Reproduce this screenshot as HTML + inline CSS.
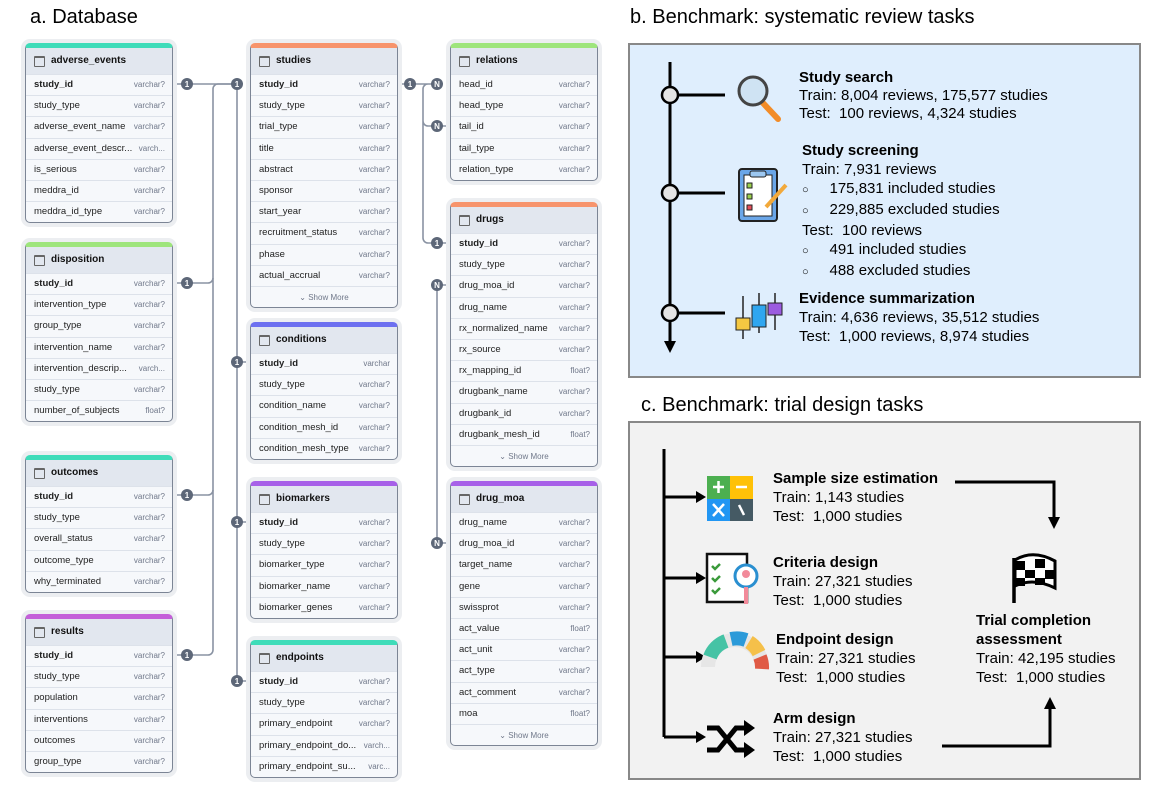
<!DOCTYPE html>
<html><head><meta charset="utf-8">
<style>
*{margin:0;padding:0;box-sizing:border-box}
body{width:1155px;height:790px;background:#fff;position:relative;overflow:hidden;font-family:"Liberation Sans",Arial,sans-serif;color:#000}
.ttl{position:absolute;font-size:20px;white-space:nowrap}
.t{position:absolute;width:148px;background:#f6f8fb;border:1.5px solid #7c8595;border-radius:5px;overflow:hidden;box-shadow:0 0 0 4px #eceef1}
.t .h{height:26px;background:#e2e7ef;font-size:10px;font-weight:bold;line-height:26px;padding-left:25px;position:relative;color:#111}
.t .h:before{content:"";position:absolute;left:8px;top:8px;width:9px;height:9px;border:1.2px solid #666;border-radius:1px;box-shadow:inset 0 3px 0 -2px #666}
.r{height:21.2px;border-top:1px solid #dde2ea;font-size:9.5px;line-height:20px;padding:0 7px 0 8px;display:flex;justify-content:space-between;white-space:nowrap;color:#222}
.r i{font-style:normal;font-size:8px;color:#6f7789}
.r.k b{font-weight:bold}
.r b{font-weight:normal}
.sm{height:21px;border-top:1px solid #dde2ea;font-size:8px;color:#6f7789;text-align:center;line-height:21px}
.box{position:absolute;border:2px solid #888}
.tx{position:absolute;font-size:15px;white-space:nowrap;line-height:18px}
.tx b{font-size:15px}
</style></head><body>
<div class="ttl" style="left:30px;top:6px">a. Database</div>
<div class="ttl" style="left:630px;top:6px">b. Benchmark: systematic review tasks</div>
<div class="ttl" style="left:641px;top:394px">c. Benchmark: trial design tasks</div>

<svg style="position:absolute;left:0;top:0" width="630" height="790">
<g fill="none" stroke="#8a93a3" stroke-width="1.6">
<path d="M173 84H237"/>
<path d="M237 84H218a5 5 0 0 0-5 5V650a5 5 0 0 1-5 5H173"/>
<path d="M173 283H208a5 5 0 0 0 5-5"/>
<path d="M173 495H208a5 5 0 0 0 5-5"/>
<path d="M237 84V681M237 362H250M237 522H250M237 681H250"/>
<path d="M398 84H437M437 84H428a5 5 0 0 0-5 5V238a5 5 0 0 0 5 5H450M423 121a5 5 0 0 0 5 5H450"/>
<path d="M437 285V543M437 285H450M437 543H450"/>
</g>
<g font-family="Liberation Sans" font-size="8" font-weight="bold" fill="#fff" text-anchor="middle">
<g fill="#5d6778"><circle cx="187" cy="84" r="6"/><circle cx="237" cy="84" r="6"/><circle cx="187" cy="283" r="6"/><circle cx="187" cy="495" r="6"/><circle cx="187" cy="655" r="6"/><circle cx="237" cy="362" r="6"/><circle cx="237" cy="522" r="6"/><circle cx="237" cy="681" r="6"/><circle cx="410" cy="84" r="6"/><circle cx="437" cy="84" r="6"/><circle cx="437" cy="126" r="6"/><circle cx="437" cy="243" r="6"/><circle cx="437" cy="285" r="6"/><circle cx="437" cy="543" r="6"/></g>
<text x="187" y="87">1</text><text x="237" y="87">1</text><text x="187" y="286">1</text><text x="187" y="498">1</text><text x="187" y="658">1</text><text x="237" y="365">1</text><text x="237" y="525">1</text><text x="237" y="684">1</text><text x="410" y="87">1</text><text x="437" y="87">N</text><text x="437" y="129">N</text><text x="437" y="246">1</text><text x="437" y="288">N</text><text x="437" y="546">N</text>
</g>
</svg>

<!-- column 1 -->
<div class="t" style="left:25px;top:43px;border-top:5px solid #3fdcb9"><div class="h">adverse_events</div>
<div class="r k"><b>study_id</b><i>varchar?</i></div><div class="r"><b>study_type</b><i>varchar?</i></div><div class="r"><b>adverse_event_name</b><i>varchar?</i></div><div class="r"><b>adverse_event_descr...</b><i>varch...</i></div><div class="r"><b>is_serious</b><i>varchar?</i></div><div class="r"><b>meddra_id</b><i>varchar?</i></div><div class="r"><b>meddra_id_type</b><i>varchar?</i></div></div>
<div class="t" style="left:25px;top:242px;border-top:5px solid #9ee57c"><div class="h">disposition</div>
<div class="r k"><b>study_id</b><i>varchar?</i></div><div class="r"><b>intervention_type</b><i>varchar?</i></div><div class="r"><b>group_type</b><i>varchar?</i></div><div class="r"><b>intervention_name</b><i>varchar?</i></div><div class="r"><b>intervention_descrip...</b><i>varch...</i></div><div class="r"><b>study_type</b><i>varchar?</i></div><div class="r"><b>number_of_subjects</b><i>float?</i></div></div>
<div class="t" style="left:25px;top:455px;border-top:5px solid #3fdcb9"><div class="h">outcomes</div>
<div class="r k"><b>study_id</b><i>varchar?</i></div><div class="r"><b>study_type</b><i>varchar?</i></div><div class="r"><b>overall_status</b><i>varchar?</i></div><div class="r"><b>outcome_type</b><i>varchar?</i></div><div class="r"><b>why_terminated</b><i>varchar?</i></div></div>
<div class="t" style="left:25px;top:614px;border-top:5px solid #c460d9"><div class="h">results</div>
<div class="r k"><b>study_id</b><i>varchar?</i></div><div class="r"><b>study_type</b><i>varchar?</i></div><div class="r"><b>population</b><i>varchar?</i></div><div class="r"><b>interventions</b><i>varchar?</i></div><div class="r"><b>outcomes</b><i>varchar?</i></div><div class="r"><b>group_type</b><i>varchar?</i></div></div>

<!-- column 2 -->
<div class="t" style="left:250px;top:43px;border-top:5px solid #f7946c"><div class="h">studies</div>
<div class="r k"><b>study_id</b><i>varchar?</i></div><div class="r"><b>study_type</b><i>varchar?</i></div><div class="r"><b>trial_type</b><i>varchar?</i></div><div class="r"><b>title</b><i>varchar?</i></div><div class="r"><b>abstract</b><i>varchar?</i></div><div class="r"><b>sponsor</b><i>varchar?</i></div><div class="r"><b>start_year</b><i>varchar?</i></div><div class="r"><b>recruitment_status</b><i>varchar?</i></div><div class="r"><b>phase</b><i>varchar?</i></div><div class="r"><b>actual_accrual</b><i>varchar?</i></div><div class="sm">⌄ Show More</div></div>
<div class="t" style="left:250px;top:322px;border-top:5px solid #6d70f0"><div class="h">conditions</div>
<div class="r k"><b>study_id</b><i>varchar</i></div><div class="r"><b>study_type</b><i>varchar?</i></div><div class="r"><b>condition_name</b><i>varchar?</i></div><div class="r"><b>condition_mesh_id</b><i>varchar?</i></div><div class="r"><b>condition_mesh_type</b><i>varchar?</i></div></div>
<div class="t" style="left:250px;top:481px;border-top:5px solid #a760e8"><div class="h">biomarkers</div>
<div class="r k"><b>study_id</b><i>varchar?</i></div><div class="r"><b>study_type</b><i>varchar?</i></div><div class="r"><b>biomarker_type</b><i>varchar?</i></div><div class="r"><b>biomarker_name</b><i>varchar?</i></div><div class="r"><b>biomarker_genes</b><i>varchar?</i></div></div>
<div class="t" style="left:250px;top:640px;border-top:5px solid #3fdcb9"><div class="h">endpoints</div>
<div class="r k"><b>study_id</b><i>varchar?</i></div><div class="r"><b>study_type</b><i>varchar?</i></div><div class="r"><b>primary_endpoint</b><i>varchar?</i></div><div class="r"><b>primary_endpoint_do...</b><i>varch...</i></div><div class="r"><b>primary_endpoint_su...</b><i>varc...</i></div></div>

<!-- column 3 -->
<div class="t" style="left:450px;top:43px;border-top:5px solid #9ee57c"><div class="h">relations</div>
<div class="r"><b>head_id</b><i>varchar?</i></div><div class="r"><b>head_type</b><i>varchar?</i></div><div class="r"><b>tail_id</b><i>varchar?</i></div><div class="r"><b>tail_type</b><i>varchar?</i></div><div class="r"><b>relation_type</b><i>varchar?</i></div></div>
<div class="t" style="left:450px;top:202px;border-top:5px solid #f7946c"><div class="h">drugs</div>
<div class="r k"><b>study_id</b><i>varchar?</i></div><div class="r"><b>study_type</b><i>varchar?</i></div><div class="r"><b>drug_moa_id</b><i>varchar?</i></div><div class="r"><b>drug_name</b><i>varchar?</i></div><div class="r"><b>rx_normalized_name</b><i>varchar?</i></div><div class="r"><b>rx_source</b><i>varchar?</i></div><div class="r"><b>rx_mapping_id</b><i>float?</i></div><div class="r"><b>drugbank_name</b><i>varchar?</i></div><div class="r"><b>drugbank_id</b><i>varchar?</i></div><div class="r"><b>drugbank_mesh_id</b><i>float?</i></div><div class="sm">⌄ Show More</div></div>
<div class="t" style="left:450px;top:481px;border-top:5px solid #a760e8"><div class="h">drug_moa</div>
<div class="r"><b>drug_name</b><i>varchar?</i></div><div class="r"><b>drug_moa_id</b><i>varchar?</i></div><div class="r"><b>target_name</b><i>varchar?</i></div><div class="r"><b>gene</b><i>varchar?</i></div><div class="r"><b>swissprot</b><i>varchar?</i></div><div class="r"><b>act_value</b><i>float?</i></div><div class="r"><b>act_unit</b><i>varchar?</i></div><div class="r"><b>act_type</b><i>varchar?</i></div><div class="r"><b>act_comment</b><i>varchar?</i></div><div class="r"><b>moa</b><i>float?</i></div><div class="sm">⌄ Show More</div></div>

<!-- panel b -->
<div class="box" style="left:628px;top:43px;width:513px;height:335px;background:#dfeefd"></div>
<svg style="position:absolute;left:628px;top:43px" width="513" height="335">
<g stroke="#000" stroke-width="3" fill="none"><path d="M42 19V300"/><path d="M42 52H97M42 150H97M42 270H97"/></g>
<path d="M36 298L48 298L42 310Z" fill="#000"/>
<g fill="#e4e4e4" stroke="#000" stroke-width="2.5"><circle cx="42" cy="52" r="8"/><circle cx="42" cy="150" r="8"/><circle cx="42" cy="270" r="8"/></g>
<line x1="135" y1="60" x2="150" y2="76" stroke="#f28c28" stroke-width="6" stroke-linecap="round"/>
<circle cx="125" cy="48" r="14" fill="#cfe3f3" stroke="#444" stroke-width="3"/>
<rect x="111" y="126" width="38" height="52" rx="3" fill="#6aa6e8" stroke="#222" stroke-width="2"/>
<rect x="116" y="132" width="28" height="41" fill="#fff" stroke="#222" stroke-width="1"/>
<rect x="122" y="128" width="16" height="6" rx="2" fill="#9cc7f0" stroke="#222"/>
<rect x="119" y="140" width="5" height="5" fill="#9bd04d" stroke="#222"/><rect x="119" y="151" width="5" height="5" fill="#9bd04d" stroke="#222"/><rect x="119" y="162" width="5" height="5" fill="#e5505a" stroke="#222"/>
<line x1="138" y1="164" x2="158" y2="142" stroke="#f2a93b" stroke-width="4"/>
<g stroke="#222" stroke-width="1.5"><line x1="115" y1="253" x2="115" y2="296"/><line x1="131" y1="250" x2="131" y2="290"/><line x1="147" y1="250" x2="147" y2="287"/></g>
<rect x="108" y="275" width="14" height="12" fill="#f5c842" stroke="#222"/>
<rect x="124" y="262" width="14" height="22" fill="#2fa6f0" stroke="#222"/>
<rect x="140" y="260" width="14" height="12" fill="#9b5be0" stroke="#222"/>
</svg>
<div class="tx" style="left:799px;top:69px"><b>Study search</b><br>Train: 8,004 reviews, 175,577 studies<br>Test:&nbsp; 100 reviews, 4,324 studies</div>
<div class="tx" style="left:802px;top:141px;line-height:19px"><b>Study screening</b><br>Train: 7,931 reviews<br><span style="font-size:11px">○</span>&nbsp;&nbsp;&nbsp;&nbsp; 175,831 included studies<br><span style="font-size:11px">○</span>&nbsp;&nbsp;&nbsp;&nbsp; 229,885 excluded studies<br>Test:&nbsp; 100 reviews<br><span style="font-size:11px">○</span>&nbsp;&nbsp;&nbsp;&nbsp; 491 included studies<br><span style="font-size:11px">○</span>&nbsp;&nbsp;&nbsp;&nbsp; 488 excluded studies</div>
<div class="tx" style="left:799px;top:289px;line-height:19px"><b>Evidence summarization</b><br>Train: 4,636 reviews, 35,512 studies<br>Test:&nbsp; 1,000 reviews, 8,974 studies</div>

<!-- panel c -->
<div class="box" style="left:628px;top:421px;width:513px;height:359px;background:#f2f2f2"></div>
<svg style="position:absolute;left:628px;top:421px" width="513" height="359">
<g stroke="#000" stroke-width="3" fill="none"><path d="M36 28V316"/><path d="M36 76H68M36 157H68M36 236H68M36 316H68"/>
<path d="M327 61H426V98"/><path d="M314 325H422V285"/></g>
<g fill="#000"><path d="M68 70L78 76L68 82Z"/><path d="M68 151L78 157L68 163Z"/><path d="M68 230L78 236L68 242Z"/><path d="M68 310L78 316L68 322Z"/>
<path d="M420 96L432 96L426 108Z"/><path d="M416 288L428 288L422 276Z"/></g>
<rect x="79" y="55" width="23" height="23" fill="#4caf50"/><rect x="102" y="55" width="23" height="23" fill="#ffc107"/><rect x="79" y="78" width="23" height="22" fill="#2196f3"/><rect x="102" y="78" width="23" height="22" fill="#455a64"/>
<g stroke="#fff" stroke-width="2.5"><path d="M85 66H96M90.5 60V72M108 66H119M85 83L96 95M96 83L85 95M111 84L116 94"/></g>
<rect x="79" y="133" width="40" height="48" fill="#fff" stroke="#111" stroke-width="2.5"/>
<g stroke="#3a9a3a" stroke-width="2.5" fill="none"><path d="M84 145l3 3 5-5M84 157l3 3 5-5M84 169l3 3 5-5"/></g>
<circle cx="118" cy="155" r="11" fill="#fff" stroke="#2a8fd0" stroke-width="3"/><circle cx="118" cy="153" r="4" fill="#f28a9a"/>
<line x1="118" y1="166" x2="118" y2="183" stroke="#f28a9a" stroke-width="4"/>
<path d="M80 246A27 27 0 0 1 134 246" stroke="#e6e6e6" stroke-width="14" fill="none"/>
<path d="M82 236A27 27 0 0 1 98 220" stroke="#45c3a5" stroke-width="14" fill="none"/>
<path d="M103 218A27 27 0 0 1 118 219" stroke="#2b9ad9" stroke-width="14" fill="none"/>
<path d="M121 221A27 27 0 0 1 131 232" stroke="#f5c04a" stroke-width="14" fill="none"/>
<path d="M132 236A27 27 0 0 1 134 248" stroke="#e05a45" stroke-width="14" fill="none"/>
<g stroke="#000" stroke-width="5" fill="none"><path d="M79 307H90L108 329H118M79 329H90L108 307H118"/></g>
<path d="M116 299L127 307L116 315ZM116 321L127 329L116 337Z" fill="#000"/>
<!-- flag -->
<path d="M386 137V182" stroke="#000" stroke-width="3.5"/>
<path d="M387 139Q405 128 427 140V167Q405 156 387 165Z" fill="#fff" stroke="#000" stroke-width="3"/>
<g fill="#000"><rect x="387" y="140" width="10" height="9"/><rect x="407" y="138" width="10" height="9"/><rect x="397" y="149" width="10" height="8"/><rect x="417" y="149" width="10" height="9"/><rect x="387" y="157" width="10" height="8"/><rect x="407" y="157" width="10" height="7"/></g>
</svg>
<div class="tx" style="left:773px;top:469px;line-height:19px"><b>Sample size estimation</b><br>Train: 1,143 studies<br>Test:&nbsp; 1,000 studies</div>
<div class="tx" style="left:773px;top:553px;line-height:19px"><b>Criteria design</b><br>Train: 27,321 studies<br>Test:&nbsp; 1,000 studies</div>
<div class="tx" style="left:776px;top:630px;line-height:19px"><b>Endpoint design</b><br>Train: 27,321 studies<br>Test:&nbsp; 1,000 studies</div>
<div class="tx" style="left:773px;top:709px;line-height:19px"><b>Arm design</b><br>Train: 27,321 studies<br>Test:&nbsp; 1,000 studies</div>
<div class="tx" style="left:976px;top:611px;line-height:19px"><b>Trial completion<br>assessment</b><br>Train: 42,195 studies<br>Test:&nbsp; 1,000 studies</div>
</body></html>
